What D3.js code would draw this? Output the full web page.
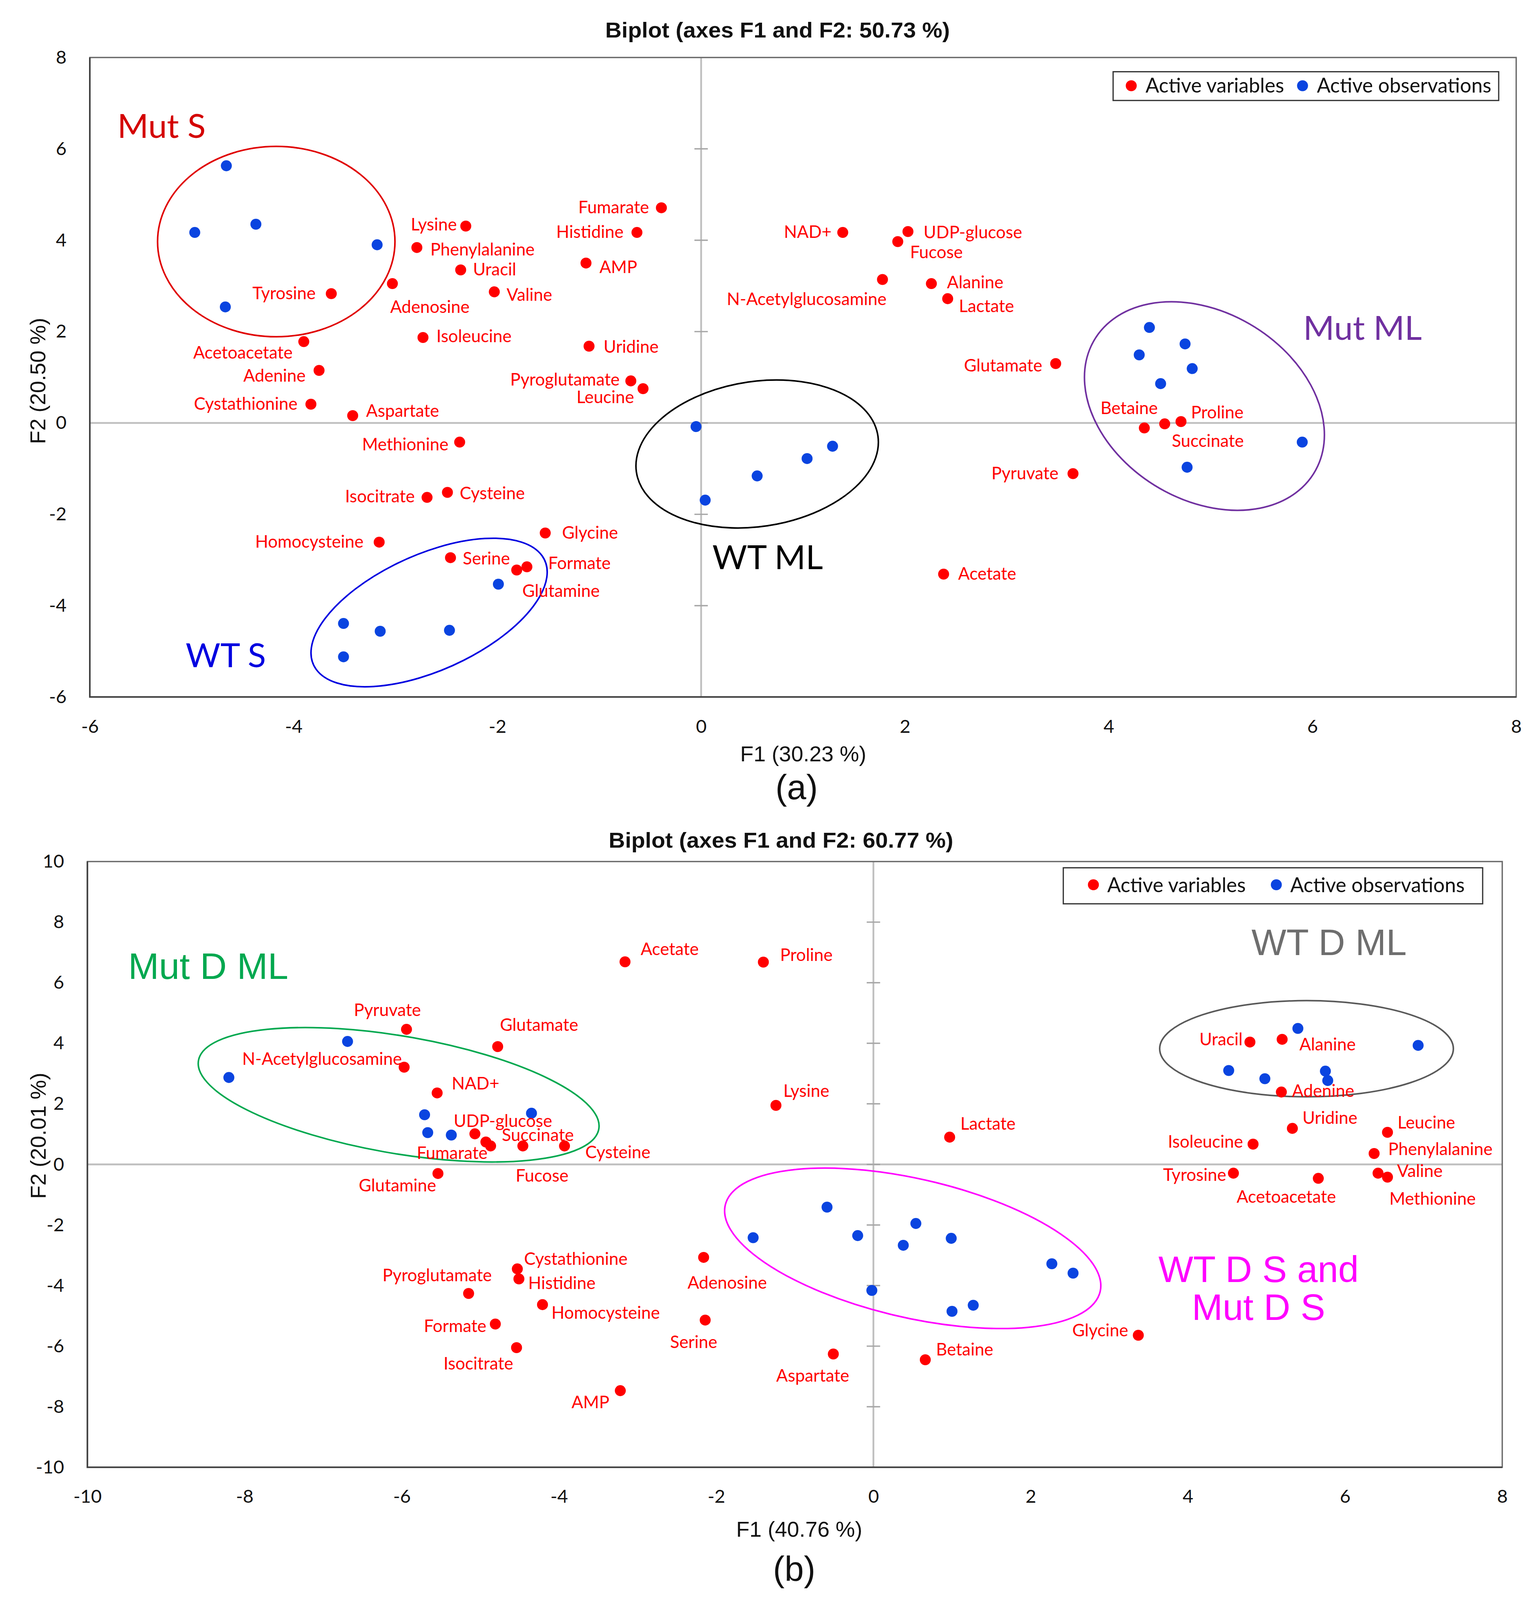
<!DOCTYPE html>
<meta charset="utf-8">
<script src="https://d3js.org/d3.v7.min.js"></script>
<style>
  html, body { margin: 0; padding: 0; background: #fff; overflow: hidden; }
  svg { display: block; }
</style>
<div id="biplot"></div>
<script>

// ---------- panel (a) data ----------
var varNamesA = ["Fumarate","Lysine","Histidine","Phenylalanine","Uracil","AMP","Adenosine","Tyrosine",
  "Valine","Isoleucine","Uridine","Acetoacetate","Adenine","Pyroglutamate","Leucine","Cystathionine",
  "Aspartate","Methionine","Isocitrate","Cysteine","Glycine","Homocysteine","Serine","Formate","Glutamine",
  "NAD+","UDP-glucose","Fucose","N-Acetylglucosamine","Alanine","Lactate","Glutamate","Betaine",
  "Succinate","Proline","Pyruvate","Acetate"];
var varXA = [-0.39,-2.31,-0.63,-2.79,-2.36,-1.13,-3.03,-3.63,-2.03,-2.73,-1.10,-3.90,-3.75,-0.69,-0.57,-3.83,
  -3.42,-2.37,-2.69,-2.49,-1.53,-3.16,-2.46,-1.71,-1.81,1.39,2.03,1.93,1.78,2.26,2.42,3.48,4.35,4.55,4.71,3.65,2.38];
var varYA = [4.71,4.31,4.17,3.84,3.35,3.50,3.05,2.83,2.87,1.87,1.68,1.78,1.15,0.92,0.75,0.41,
  0.16,-0.42,-1.63,-1.52,-2.41,-2.61,-2.95,-3.15,-3.22,4.17,4.19,3.97,3.14,3.05,2.72,1.30,-0.11,-0.02,0.03,-1.11,-3.31];
var obsXA = [-4.66,-4.97,-4.37,-3.18,-4.67, -0.05,0.04,0.55,1.04,1.29,
  4.40,4.75,4.30,4.82,4.51,5.90,4.77, -1.99,-3.51,-3.15,-2.47,-3.51];
var obsYA = [5.63,4.17,4.35,3.90,2.54, -0.08,-1.69,-1.16,-0.78,-0.51,
  2.09,1.73,1.49,1.19,0.86,-0.42,-0.97, -3.53,-4.39,-4.56,-4.54,-5.12];
var xTicksA = [-6,-4,-2,0,2,4,6,8];
var yTicksA = [-6,-4,-2,0,2,4,6,8];

// ---------- panel (b) data ----------
var varNamesB = ["Acetate","Proline","Pyruvate","Glutamate","N-Acetylglucosamine","NAD+","Lysine","UDP-glucose",
  "Fumarate","Succinate","Fucose","Cysteine","Lactate","Glutamine","Adenosine","Cystathionine","Histidine",
  "Pyroglutamate","Homocysteine","Serine","Formate","Isocitrate","AMP","Aspartate","Betaine","Glycine",
  "Uracil","Alanine","Adenine","Uridine","Leucine","Isoleucine","Phenylalanine","Tyrosine","Acetoacetate",
  "Valine","Methionine"];
var varXB = [-3.16,-1.40,-5.94,-4.78,-5.97,-5.55,-1.24,-5.07,-4.93,-4.87,-4.46,-3.93,0.97,-5.54,-2.16,-4.53,-4.51,
  -5.15,-4.21,-2.14,-4.81,-4.54,-3.22,-0.51,0.66,3.37,4.79,5.20,5.19,5.33,6.54,4.83,6.37,4.58,5.66,6.42,6.54];
var varYB = [6.69,6.68,4.46,3.89,3.21,2.36,1.95,1.01,0.74,0.61,0.61,0.61,0.90,-0.30,-3.07,-3.45,-3.78,
  -4.26,-4.63,-5.14,-5.27,-6.05,-7.47,-6.26,-6.45,-5.64,4.04,4.13,2.39,1.19,1.06,0.67,0.36,-0.29,-0.46,-0.29,-0.42];
var obsXB = [-6.69,-8.20,-5.71,-5.67,-5.37,-4.35, 5.40,6.93,4.52,4.98,5.75,5.78,
  -0.59,-1.53,-0.20,0.54,0.38,0.99,2.27,2.54,-0.02,1.00,1.27];
var obsYB = [4.06,2.87,1.64,1.05,0.97,1.69, 4.49,3.93,3.10,2.83,3.08,2.77,
  -1.41,-2.42,-2.35,-1.95,-2.67,-2.44,-3.28,-3.59,-4.16,-4.85,-4.65];
var xTicksB = [-10,-8,-6,-4,-2,0,2,4,6,8];
var yTicksB = [-10,-8,-6,-4,-2,0,2,4,6,8,10];

var legendNames = ["Active variables", "Active observations"];

// label placement: [anchor, dx, dy] from the point
var placeA = {
  "Fumarate":["end",-11,5], "Lysine":["end",-8,4], "Histidine":["end",-12,5], "Phenylalanine":["start",12,7],
  "Uracil":["start",11,5], "AMP":["start",12,9], "Adenosine":["start",-2,26], "Tyrosine":["end",-14,5],
  "Valine":["start",11,8], "Isoleucine":["start",12,4], "Uridine":["start",13,6], "Acetoacetate":["end",-10,15],
  "Adenine":["end",-12,10], "Pyroglutamate":["end",-10,4], "Leucine":["end",-8,13], "Cystathionine":["end",-12,5],
  "Aspartate":["start",12,1], "Methionine":["end",-10,7.5], "Isocitrate":["end",-11,4.5], "Cysteine":["start",11,6],
  "Glycine":["start",15,5], "Homocysteine":["end",-14,5], "Serine":["start",11,6], "Formate":["start",19,2],
  "Glutamine":["start",5,24], "NAD+":["end",-10,5], "UDP-glucose":["start",14,6], "Fucose":["start",11,15],
  "N-Acetylglucosamine":["end",3.6,23], "Alanine":["start",14,4], "Lactate":["start",10,12],
  "Glutamate":["end",-12,7], "Betaine":["end",12,-12.5], "Succinate":["start",6.3,20.7],
  "Proline":["start",9,-3], "Pyruvate":["end",-13,5], "Acetate":["start",13,5]
};
var placeB = {
  "Acetate":["start",14,-6], "Proline":["start",15,-1], "Pyruvate":["start",-47,-12], "Glutamate":["start",2,-14],
  "N-Acetylglucosamine":["end",-2,-2], "NAD+":["start",13,-3], "Lysine":["start",6.6,-7.7],
  "UDP-glucose":["start",-19,-6], "Fumarate":["end",1.5,15], "Succinate":["start",10,-4.5],
  "Fucose":["start",-6.4,32], "Cysteine":["start",18.6,11], "Lactate":["start",9.6,-6.6],
  "Glutamine":["end",-1.6,16], "Adenosine":["start",-14.4,28], "Cystathionine":["start",6,-3.7],
  "Histidine":["start",8.3,9], "Pyroglutamate":["start",-77,-11], "Homocysteine":["start",8,12.6],
  "Serine":["start",-31.4,25], "Formate":["end",-8,7], "Isocitrate":["end",-3,19.6], "AMP":["end",-9.8,15.7],
  "Aspartate":["start",-51,24.6], "Betaine":["start",9.6,-3.8], "Glycine":["end",-9,1],
  "Uracil":["end",-6.5,3], "Alanine":["start",15.4,10], "Adenine":["start",9.5,4.5], "Uridine":["start",9,-4],
  "Leucine":["start",9,-3.5], "Isoleucine":["end",-9,3], "Phenylalanine":["start",12.6,1.3],
  "Tyrosine":["end",-6.4,7], "Acetoacetate":["start",-73,21.7], "Valine":["start",17,3.3],
  "Methionine":["start",1.7,24.6]
};

// group ellipses: centre in data units, radii/rotation in layout units
var groupsA = [
  {cx:-4.17, cy:3.97, rx:97, ry:93, rot:0, color:"#e00000"},
  {cx:0.55, cy:-0.68, rx:100.4, ry:70.4, rot:-13.3, color:"#000000"},
  {cx:4.94, cy:0.37, rx:113, ry:85, rot:49, color:"#7030a0"},
  {cx:-2.67, cy:-4.15, rx:107.7, ry:54.6, rot:-31, color:"#0000e0"}
];
var groupsB = [
  {cx:-6.04, cy:2.30, rx:167, ry:57, rot:12, color:"#00a84f"},
  {cx:5.51, cy:3.82, rx:120, ry:47, rot:0, color:"#595959"},
  {cx:0.50, cy:-2.77, rx:159, ry:67, rot:16.4, color:"#ff00ff"}
];
var groupTextA = [
  {t:"Mut S", x:-5.73, y:6.24, color:"#d40000", anchor:"start"},
  {t:"WT ML", x:0.11, y:-3.20, color:"#000000", anchor:"start"},
  {t:"Mut ML", x:5.91, y:1.82, color:"#7030a0", anchor:"start"},
  {t:"WT S", x:-5.06, y:-5.35, color:"#0000e0", anchor:"start"}
];
var groupTextB = [
  {t:"Mut D ML", x:-9.48, y:6.13, color:"#00a84f", anchor:"start"},
  {t:"WT D ML", x:4.81, y:6.91, color:"#6e6e6e", anchor:"start"},
  {t:"WT D S and", x:4.90, y:-3.88, color:"#ff00ff", anchor:"middle"},
  {t:"Mut D S", x:4.90, y:-5.14, color:"#ff00ff", anchor:"middle"}
];

// layout is designed on a 1256 x 1563.7 grid and stretched to fill the window;
// text and dots keep their natural shape
var LW = 1256, LH = 1563.7;
var W = window.innerWidth || 3935, H = window.innerHeight || 4899;
var sx = W / LW, sy = H / LH, ts = Math.sqrt(sx * sy);

var svg = d3.select("#biplot").append("svg").attr("width", W).attr("height", H);

var LABEL_FONT = "Lato, 'Open Sans', sans-serif";
var ARIAL = "'Liberation Sans', Arial, sans-serif";
var RED = "#ff0000", BLUE = "#0a44e0";

function drawPanel(p) {
  var x = d3.scaleLinear().domain(p.xDomain).range([p.left * sx, p.right * sx]);
  var y = d3.scaleLinear().domain(p.yDomain).range([p.bottom * sy, p.top * sy]);
  var g = svg.append("g");
  var L0 = p.left * sx, R0 = p.right * sx, T0 = p.top * sy, B0 = p.bottom * sy;

  // zero lines
  g.append("line").attr("x1", x(0)).attr("x2", x(0)).attr("y1", T0).attr("y2", B0)
    .attr("stroke", "#bfbfbf").attr("stroke-width", 1.6 * ts);
  g.append("line").attr("x1", L0).attr("x2", R0).attr("y1", y(0)).attr("y2", y(0))
    .attr("stroke", "#bfbfbf").attr("stroke-width", 1.6 * ts);
  // small ticks on the vertical zero line
  g.selectAll(".zt").data(p.yTicks.slice(1, -1)).enter().append("line")
    .attr("x1", x(0) - 6 * ts).attr("x2", x(0) + 6 * ts)
    .attr("y1", function(d) { return y(d); }).attr("y2", function(d) { return y(d); })
    .attr("stroke", "#a6a6a6").attr("stroke-width", 1.2 * ts);

  // axes (labels only)
  var ax = g.append("g").attr("transform", "translate(0," + B0 + ")")
    .call(d3.axisBottom(x).tickValues(p.xTicks).tickSize(0).tickPadding(22 * sy)
      .tickFormat(function(d) { return String(d); }));
  var ay = g.append("g").attr("transform", "translate(" + L0 + ",0)")
    .call(d3.axisLeft(y).tickValues(p.yTicks).tickSize(0).tickPadding(19 * sx)
      .tickFormat(function(d) { return String(d); }));
  [ax, ay].forEach(function(a) {
    a.select(".domain").remove();
    a.selectAll("text").attr("font-family", LABEL_FONT).attr("font-size", 16.5 * ts).attr("fill", "#111");
  });

  // group ellipses
  g.selectAll(".grp").data(p.groups).enter().append("ellipse")
    .attr("transform", function(d) {
      return "translate(" + x(d.cx) + "," + y(d.cy) + ") scale(" + sx + "," + sy + ") rotate(" + d.rot + ")";
    })
    .attr("rx", function(d) { return d.rx; }).attr("ry", function(d) { return d.ry; })
    .attr("vector-effect", "non-scaling-stroke")
    .attr("fill", "none").attr("stroke", function(d) { return d.color; }).attr("stroke-width", 1.4 * ts);

  // observations
  g.selectAll(".obs").data(d3.range(p.obsX.length)).enter().append("circle")
    .attr("cx", function(i) { return x(p.obsX[i]); }).attr("cy", function(i) { return y(p.obsY[i]); })
    .attr("r", 4.9 * ts).attr("fill", BLUE);

  // variables
  var idx = d3.range(p.names.length);
  g.selectAll(".var").data(idx).enter().append("circle")
    .attr("cx", function(i) { return x(p.varX[i]); }).attr("cy", function(i) { return y(p.varY[i]); })
    .attr("r", 4.9 * ts).attr("fill", RED);
  g.selectAll(".lab").data(idx).enter().append("text")
    .attr("x", function(i) { return x(p.varX[i]) + p.place[p.names[i]][1] * ts; })
    .attr("y", function(i) { return y(p.varY[i]) + p.place[p.names[i]][2] * ts; })
    .attr("text-anchor", function(i) { return p.place[p.names[i]][0]; })
    .attr("font-family", LABEL_FONT).attr("font-size", 15.3 * ts).attr("fill", RED)
    .text(function(i) { return p.names[i]; });

  // group names
  g.selectAll(".gt").data(p.groupText).enter().append("text")
    .attr("x", function(d) { return x(d.x); }).attr("y", function(d) { return y(d.y); })
    .attr("text-anchor", function(d) { return d.anchor; })
    .attr("font-family", p.groupFont).attr("font-size", p.groupSize * ts)
    .attr("fill", function(d) { return d.color; })
    .text(function(d) { return d.t; });

  // frame
  g.append("rect").attr("x", L0).attr("y", T0).attr("width", R0 - L0).attr("height", B0 - T0)
    .attr("fill", "none").attr("stroke", "#6b6b6b").attr("stroke-width", 1.2 * ts);
  g.append("path").attr("d", "M" + L0 + "," + T0 + "V" + B0 + "H" + R0)
    .attr("fill", "none").attr("stroke", "#404040").attr("stroke-width", 1.4 * ts);

  // legend, laid out from its right edge using the measured text widths
  var L = p.legend;
  var box = g.append("rect");
  var texts = legendNames.map(function(t) {
    return g.append("text").attr("y", L.base * sy).attr("font-family", LABEL_FONT)
      .attr("font-size", 18 * ts).attr("fill", "#111").text(t);
  });
  var w = texts.map(function(t) { return t.node().getComputedTextLength(); });
  var x1 = L.right * sx;
  var x0 = x1 - ((L.padL + 2 * L.dotGap + L.itemGap + L.padR) * ts + w[0] + w[1]);
  var d1 = x0 + L.padL * ts, t1 = d1 + L.dotGap * ts;
  var d2 = t1 + w[0] + L.itemGap * ts, t2 = d2 + L.dotGap * ts;
  box.attr("x", x0).attr("y", L.y0 * sy).attr("width", x1 - x0).attr("height", (L.y1 - L.y0) * sy)
    .attr("fill", "#fff").attr("stroke", "#333").attr("stroke-width", 1.1 * ts);
  texts[0].attr("x", t1);
  texts[1].attr("x", t2);
  g.append("circle").attr("cx", d1).attr("cy", L.cy * sy).attr("r", 4.9 * ts).attr("fill", RED);
  g.append("circle").attr("cx", d2).attr("cy", L.cy * sy).attr("r", 4.9 * ts).attr("fill", BLUE);

  // titles
  g.append("text").attr("x", p.title.x * sx).attr("y", p.title.y * sy).attr("text-anchor", "middle")
    .attr("font-family", ARIAL).attr("font-weight", "bold").attr("font-size", 19.5 * ts)
    .attr("textLength", 308 * ts).attr("lengthAdjust", "spacingAndGlyphs")
    .attr("fill", "#111").text(p.title.t);
  g.append("text").attr("x", p.xTitle.x * sx).attr("y", p.xTitle.y * sy).attr("text-anchor", "middle")
    .attr("font-family", ARIAL).attr("font-size", 19.5 * ts).attr("fill", "#111").text(p.xTitle.t);
  g.append("text")
    .attr("transform", "translate(" + (p.yTitle.x * sx) + "," + (p.yTitle.y * sy) + ") rotate(-90)")
    .attr("text-anchor", "middle")
    .attr("font-family", ARIAL).attr("font-size", 19.5 * ts).attr("fill", "#111").text(p.yTitle.t);
  g.append("text").attr("x", p.tag.x * sx).attr("y", p.tag.y * sy).attr("text-anchor", "middle")
    .attr("font-family", ARIAL).attr("font-size", 31 * ts).attr("fill", "#111").text(p.tag.t);
}

drawPanel({
  left: 73.4, right: 1239, top: 56.2, bottom: 681.2,
  xDomain: [-6, 8], yDomain: [-6, 8], xTicks: xTicksA, yTicks: yTicksA,
  names: varNamesA, varX: varXA, varY: varYA, obsX: obsXA, obsY: obsYA, place: placeA,
  groups: groupsA, groupText: groupTextA, groupFont: LABEL_FONT, groupSize: 30,
  legend: {right: 1224.7, y0: 70.1, y1: 98.2, cy: 83.8, base: 90.4, padL: 16.2, dotGap: 12.8, itemGap: 16.5, padR: 6.6},
  title: {t: "Biplot (axes F1 and F2: 50.73 %)", x: 635.4, y: 36.6},
  xTitle: {t: "F1 (30.23 %)", x: 656.4, y: 744},
  yTitle: {t: "F2 (20.50 %)", x: 37, y: 372.3},
  tag: {t: "(a)", x: 651, y: 781}
});

drawPanel({
  left: 71.4, right: 1227.6, top: 842, bottom: 1434,
  xDomain: [-10, 8], yDomain: [-10, 10], xTicks: xTicksB, yTicks: yTicksB,
  names: varNamesB, varX: varXB, varY: varYB, obsX: obsXB, obsY: obsYB, place: placeB,
  groups: groupsB, groupText: groupTextB, groupFont: ARIAL, groupSize: 33,
  legend: {right: 1211.6, y0: 848.1, y1: 883.3, cy: 864.7, base: 872, padL: 26.9, dotGap: 12.4, itemGap: 27.3, padR: 16.1},
  title: {t: "Biplot (axes F1 and F2: 60.77 %)", x: 638.2, y: 828.3},
  xTitle: {t: "F1 (40.76 %)", x: 653.1, y: 1501.8},
  yTitle: {t: "F2 (20.01 %)", x: 37.5, y: 1110},
  tag: {t: "(b)", x: 649, y: 1545}
});

</script>
